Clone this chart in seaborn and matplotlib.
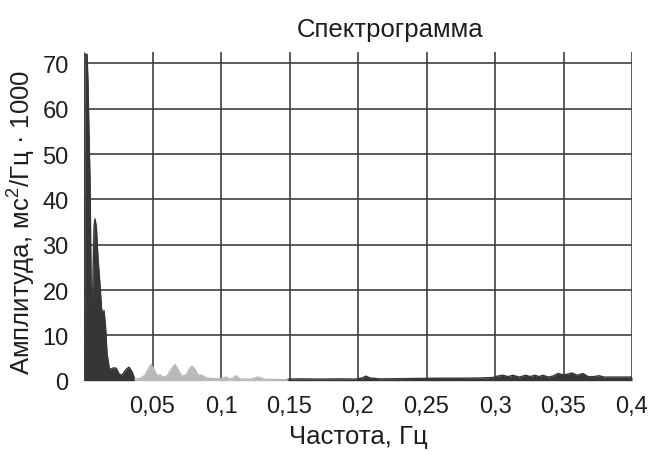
import matplotlib
matplotlib.use("Agg")
import matplotlib.pyplot as plt
import seaborn as sns
import pandas as pd

# Low-frequency band (dark fill)
freq_low = [0.0004, 0.0007, 0.0022, 0.0029, 0.0036, 0.0044, 0.0049, 0.0053,
            0.0061, 0.0066, 0.0073, 0.0080, 0.0090, 0.0102, 0.0117, 0.0128,
            0.0139, 0.0146, 0.0157, 0.0168, 0.0186, 0.0212, 0.0234, 0.0256,
            0.0277, 0.0307, 0.0329, 0.0350, 0.0369]
amp_low = [0.0, 72.0, 72.0, 66.0, 55.0, 44.0, 30.0, 18.0,
           16.0, 24.0, 34.0, 35.7, 34.0, 27.0, 21.0, 16.0,
           14.0, 15.5, 12.0, 6.0, 2.5, 2.8, 2.8, 1.5,
           1.2, 2.5, 3.0, 2.0, 0.5]

# Middle band (light fill)
freq_mid = [0.0369, 0.0409, 0.0445, 0.0467, 0.0489, 0.0511, 0.0533, 0.0555,
            0.0577, 0.0606, 0.0635, 0.0664, 0.0686, 0.0715, 0.0745, 0.0767,
            0.0788, 0.0810, 0.0832, 0.0861, 0.0891, 0.0934, 0.0993, 0.1037,
            0.1066, 0.1110, 0.1139, 0.1212, 0.1270, 0.1321, 0.1489]
amp_mid = [0.3, 0.5, 1.2, 2.5, 3.6, 2.5, 1.1, 1.3,
           0.8, 1.0, 2.5, 3.6, 2.5, 1.0, 1.2, 2.5,
           3.2, 2.5, 1.3, 1.2, 0.6, 0.5, 0.4, 0.8,
           0.3, 1.1, 0.4, 0.3, 0.8, 0.3, 0.2]

# High-frequency band (dark fill)
freq_high = [0.1489, 0.1577, 0.1723, 0.1869, 0.1978, 0.2029, 0.2058, 0.2088,
             0.2161, 0.2307, 0.2453, 0.2599, 0.2745, 0.2891, 0.2985, 0.3015,
             0.3058, 0.3095, 0.3131, 0.3175, 0.3226, 0.3255, 0.3292, 0.3321,
             0.3350, 0.3387, 0.3423, 0.3460, 0.3496, 0.3526, 0.3562, 0.3599,
             0.3642, 0.3679, 0.3723, 0.3759, 0.3796, 0.3876, 0.4000]
amp_high = [0.35, 0.4, 0.35, 0.4, 0.35, 0.6, 1.0, 0.6,
            0.4, 0.45, 0.5, 0.55, 0.55, 0.6, 0.7, 1.0,
            1.2, 0.9, 1.2, 0.8, 1.2, 0.9, 1.2, 0.9,
            1.2, 0.8, 1.0, 1.6, 1.3, 1.4, 1.7, 1.2,
            1.6, 0.9, 0.9, 1.1, 0.8, 0.8, 0.8]

x_ticks = [0, 0.05, 0.1, 0.15, 0.2, 0.25, 0.3, 0.35, 0.4]
x_ticklabels = ["", "0,05", "0,1", "0,15", "0,2", "0,25", "0,3", "0,35", "0,4"]
y_ticks = [0, 10, 20, 30, 40, 50, 60, 70]

sns.set_theme(style="white")
plt.rcParams["font.family"] = ["Liberation Sans", "DejaVu Sans"]
plt.rcParams["mathtext.fontset"] = "custom"
plt.rcParams["mathtext.rm"] = "Liberation Sans"
plt.rcParams["mathtext.it"] = "Liberation Sans"

DARK = "#363636"
LIGHT = "#b9b9b9"
GRID = "#404040"
TEXT = "#1e1e1e"

W, H = 652, 452
fig = plt.figure(figsize=(W / 100, H / 100), dpi=100)
ax = fig.add_axes([84 / W, 1 - 381.7 / H, (632 - 84) / W, (381.7 - 53) / H])

bands = [
    (freq_low, amp_low, DARK),
    (freq_mid, amp_mid, LIGHT),
    (freq_high, amp_high, DARK),
]
for f, a, c in bands:
    df = pd.DataFrame({"f": f, "a": a})
    ax.fill_between(df["f"], 0, df["a"], color=c, lw=0, zorder=3)
    sns.lineplot(data=df, x="f", y="a", ax=ax, color=c, lw=1.0, zorder=3)

ax.set_xlim(0, 0.4)
ax.set_ylim(0, 72.5)
ax.set_xticks(x_ticks)
ax.set_xticklabels(x_ticklabels)
ax.set_yticks(y_ticks)
ax.set_yticklabels([str(v) for v in y_ticks])

ax.grid(True, color=GRID, lw=1.2, zorder=1)
ax.set_axisbelow(True)
for s in ax.spines.values():
    s.set_visible(False)

ax.tick_params(axis="both", which="major", direction="out", length=8,
               width=1.2, color=GRID, labelsize=17, labelcolor=TEXT, pad=3)
ax.tick_params(axis="x", pad=2)

ax.set_xlabel("")
ax.set_ylabel("")
fig.text(358 / W, 1 - 437 / H, "Частота, Гц", ha="center", va="center",
         fontsize=18.5, color=TEXT)
fig.text(22 / W, 1 - 222 / H, "Амплитуда, мс$^{2}$/Гц · 1000", rotation=90,
         ha="center", va="center", fontsize=18.5, color=TEXT)
fig.text(390 / W, 1 - 30 / H, "Спектрограмма", ha="center", va="center",
         fontsize=18.5, color=TEXT)

fig.savefig("out.png", dpi=100)
